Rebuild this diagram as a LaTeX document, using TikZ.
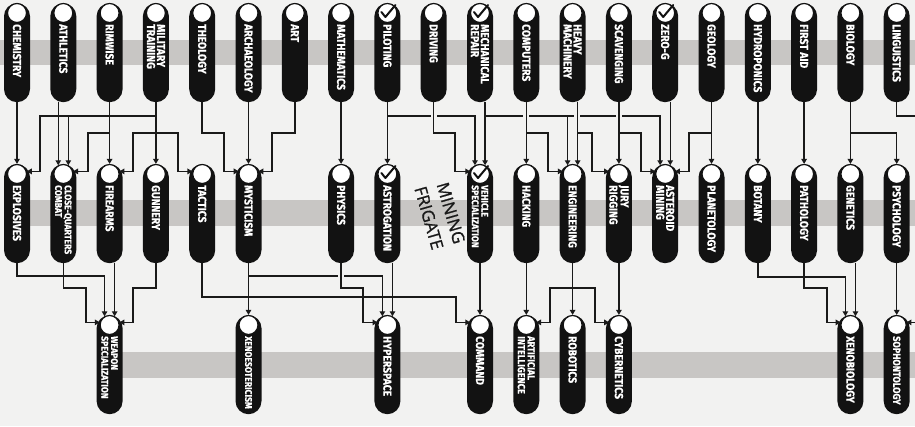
\documentclass[tikz,border=0pt]{standalone}
\usepackage{fontspec}
\usetikzlibrary{arrows.meta,calc}
\newfontfamily\skfont{Fira Sans}[FakeStretch=0.9, BoldFeatures={FakeBold=0.6}]
\newfontfamily\handfont{Open Sans}[FakeBold=0.8]
\definecolor{bg}{HTML}{F2F2F1}
\definecolor{band}{HTML}{C8C6C4}
\definecolor{ink}{HTML}{1A1A1A}
\definecolor{pillc}{HTML}{121212}
\tikzset{
  pill/.style={draw=none, fill=pillc, rounded corners=13pt, minimum width=26pt, minimum height=99pt, inner sep=0pt, anchor=north},
  ring/.style={circle, draw=pillc, line width=1.2pt, fill=white, minimum size=19pt, inner sep=0pt},
  sktext/.style={text=white, font=\skfont\bfseries\fontsize{11.5}{10}\selectfont, rotate=-90, anchor=west, align=left, inner sep=0pt},
  sksmall/.style={font=\skfont\bfseries\fontsize{9.6}{9.6}\selectfont},
  skmid/.style={font=\skfont\bfseries\fontsize{10.2}{9.8}\selectfont},
  conn/.style={draw=ink, line width=1.5pt, -{Triangle[length=5pt,width=5.5pt]}},
  wire/.style={draw=ink, line width=1.5pt},
  tickmark/.style={draw=pillc, line width=2pt, line cap=round, line join=round},
  hand/.style={rotate=-74, font=\handfont\fontsize{17}{17}\selectfont, text=ink, inner sep=0pt},
}
\newcommand\skill[5]{%
  \node[pill] (#1) at (#2,#3) {};
  \node[ring] (#1-c) at ($(#1.north)+(0,10)$) {};
  \node[sktext,#5] (#1-t) at ($(#1.north)+(0,21)$) {#4};
}
\newcommand\skcheck[1]{\draw[tickmark] ($(#1-c)+(-6,-1)$) -- ($(#1-c)+(-2,4)$) -- ($(#1-c)+(8,-8)$);}
\newcommand\skgap[2]{\fill[bg] (#1-3,#2-1.3) rectangle (#1+3,#2+1.3); \draw[wire] (#1,#2-1.6) -- (#1,#2+1.6);}
\begin{document}
\begin{tikzpicture}[x=1pt,y=-1pt]
\useasboundingbox (0,0) rectangle (915,426);
\clip (0,0) rectangle (915,426);
\fill[bg] (0,0) rectangle (915,426);
% bands
\fill[band] (0,40) rectangle (915,65);
\fill[band] (17,200) rectangle (915,226);
\fill[band] (110,352) rectangle (915,378);
% row 1
\skill{chem}{17}{3}{CHEMISTRY}{}
\skill{ath}{63.3}{3}{ATHLETICS}{}
\skill{rim}{109.6}{3}{RIMWISE}{}
\skill{mil}{155.9}{3}{MILITARY\\TRAINING}{}
\skill{theo}{202.2}{3}{THEOLOGY}{}
\skill{arch}{248.5}{3}{ARCHAEOLOGY}{}
\skill{art}{294.8}{3}{ART}{}
\skill{math}{341.1}{3}{MATHEMATICS}{}
\skill{pil}{387.4}{3}{PILOTING}{}
\skill{driv}{433.7}{3}{DRIVING}{}
\skill{mech}{480}{3}{MECHANICAL\\REPAIR}{}
\skill{comp}{526.3}{3}{COMPUTERS}{}
\skill{heavy}{572.6}{3}{HEAVY\\MACHINERY}{}
\skill{scav}{618.9}{3}{SCAVENGING}{}
\skill{zero}{665.2}{3}{ZERO-G}{}
\skill{geo}{711.5}{3}{GEOLOGY}{}
\skill{hydro}{757.8}{3}{HYDROPONICS}{}
\skill{first}{804.1}{3}{FIRST AID}{}
\skill{bio}{850.4}{3}{BIOLOGY}{}
\skill{ling}{896.7}{3}{LINGUISTICS}{}
% row 2
\skill{expl}{17}{164}{EXPLOSIVES}{}
\skill{cqc}{63.3}{164}{CLOSE-QUARTERS\\COMBAT}{sksmall}
\skill{fire}{109.6}{164}{FIREARMS}{}
\skill{gun}{155.9}{164}{GUNNERY}{}
\skill{tac}{202.2}{164}{TACTICS}{}
\skill{myst}{248.5}{164}{MYSTICISM}{}
\skill{phys}{341.1}{164}{PHYSICS}{}
\skill{astro}{387.4}{164}{ASTROGATION}{}
\skill{veh}{480}{164}{VEHICLE\\SPECIALIZATION}{sksmall}
\skill{hack}{526.3}{164}{HACKING}{}
\skill{eng}{572.6}{164}{ENGINEERING}{}
\skill{jury}{618.9}{164}{JURY\\RIGGING}{}
\skill{ast}{665.2}{164}{ASTEROID\\MINING}{}
\skill{plan}{711.5}{164}{PLANETOLOGY}{}
\skill{bot}{757.8}{164}{BOTANY}{}
\skill{patho}{804.1}{164}{PATHOLOGY}{}
\skill{gen}{850.4}{164}{GENETICS}{}
\skill{psy}{896.7}{164}{PSYCHOLOGY}{}
% row 3
\skill{weap}{109.6}{315}{WEAPON\\SPECIALIZATION}{sksmall}
\skill{xeno}{248.5}{315}{XENOESOTERICISM}{sksmall}
\skill{hyp}{387.4}{315}{HYPERSPACE}{}
\skill{cmd}{480}{315}{COMMAND}{}
\skill{ai}{526.3}{315}{ARTIFICIAL\\INTELLIGENCE}{skmid}
\skill{rob}{572.6}{315}{ROBOTICS}{}
\skill{cyb}{618.9}{315}{CYBERNETICS}{}
\skill{xbio}{850.4}{315}{XENOBIOLOGY}{}
\skill{soph}{896.7}{315}{SOPHONTOLOGY}{skmid}
% checks
\skcheck{pil}\skcheck{mech}\skcheck{zero}\skcheck{astro}\skcheck{veh}
% label
\node[hand] (mf1) at (451,213) {MINING};
\node[hand] (mf2) at (429,218) {FRIGATE};
% connectors row 1 -> row 2
\draw[conn] (chem.south) -- (expl-c.north);
\draw[conn] (cqc-c.120 |- ath.south) -- (cqc-c.120);
\draw[conn] (mil.south) |- (40,116) |- (expl-c.15);
\draw[conn] (mil.south) |- (cqc-c.60 |- 0,116) -- (cqc-c.60);
\draw[conn] (rim.south) -- (fire-c.north);
\draw[conn] (rim.south) |- (88,133) |- (cqc-c.15);
\draw[conn] (mil.south) -- (gun-c.north);
\draw[conn] (mil.south) |- (133,133) |- (fire-c.15);
\draw[conn] (mil.south) |- (178,133) |- (tac-c.165);
\draw[conn] (theo.south) |- (224,133) |- (myst-c.165);
\draw[conn] (arch.south) -- (myst-c.north);
\draw[conn] (art.south) |- (272,133) |- (myst-c.15);
\draw[conn] (math.south) -- (phys-c.north);
\draw[conn] (pil.south) -- (astro-c.north);
\draw[conn] (pil.south) |- (veh-c.120 |- 0,116) -- (veh-c.120);
\draw[conn] (veh-c.60 |- mech.south) -- (veh-c.60);
\draw[conn] (driv.south) |- (455,133) |- (veh-c.165);
\draw[conn] (comp.south) -- (hack-c.north);
\draw[conn] (comp.south) |- (548,133) |- (eng-c.165);
\draw[conn] (veh-c.60 |- mech.south) |- (eng-c.120 |- 0,116) -- (eng-c.120);
\draw[conn] (eng-c.60 |- heavy.south) -- (eng-c.60);
\draw[conn] (eng-c.60 |- heavy.south) |- (592,133) |- (jury-c.165);
\draw[conn] (scav.south) -- (jury-c.north);
\draw[conn] (veh-c.60 |- mech.south) |- (ast-c.120 |- 0,116) -- (ast-c.120);
\draw[conn] (ast-c.60 |- zero.south) -- (ast-c.60);
\draw[conn] (scav.south) |- (641,133) |- (ast-c.165);
\draw[conn] (geo.south) |- (689,133) |- (ast-c.15);
\draw[conn] (geo.south) -- (plan-c.north);
\draw[conn] (hydro.south) -- (bot-c.north);
\draw[conn] (first.south) -- (patho-c.north);
\draw[conn] (bio.south) -- (gen-c.north);
\draw[conn] (bio.south) |- (psy-c.north |- 0,133) -- (psy-c.north);
\coordinate (lingout) at (930,116);
\draw[wire] (ling.south) |- (lingout);
% connectors row 2 -> row 3
\draw[conn] (expl.south) |- (weap-c.120 |- 0,276) -- (weap-c.120);
\draw[conn] (cqc.south) |- (86,288) |- (weap-c.165);
\draw[conn] (weap-c.60 |- fire.south) -- (weap-c.60);
\draw[conn] (gun.south) |- (133,288) |- (weap-c.15);
\draw[conn] (tac.south) |- (456,297) |- (cmd-c.165);
\draw[conn] (myst.south) -- (xeno-c.north);
\draw[conn] (myst.south) |- (hyp-c.120 |- 0,276) -- (hyp-c.120);
\draw[conn] (phys.south) |- (363,288) |- (hyp-c.165);
\draw[conn] (hyp-c.60 |- astro.south) -- (hyp-c.60);
\draw[conn] (veh.south) -- (cmd-c.north);
\draw[conn] (hack.south) -- (ai-c.north);
\draw[conn] (eng.south) |- (550,288) |- (ai-c.15);
\draw[conn] (eng.south) -- (rob-c.north);
\draw[conn] (eng.south) |- (595,288) |- (cyb-c.165);
\draw[conn] (jury.south) -- (cyb-c.north);
\draw[conn] (bot.south) |- (xbio-c.120 |- 0,277) -- (xbio-c.120);
\draw[conn] (patho.south) |- (827,288) |- (xbio-c.165);
\draw[conn] (xbio-c.60 |- gen.south) -- (xbio-c.60);
\draw[conn] (psy.south) -- (soph-c.north);
\coordinate (lingin) at (soph-c.15 -| 930,0);
\draw[conn] (lingin) -- (soph-c.15);
% crossing gaps
\skgap{433.7}{116}
\skgap{526.3}{116}
\skgap{577.35}{116}
\skgap{618.9}{116}
\skgap{341.1}{276}
\end{tikzpicture}
\end{document}
